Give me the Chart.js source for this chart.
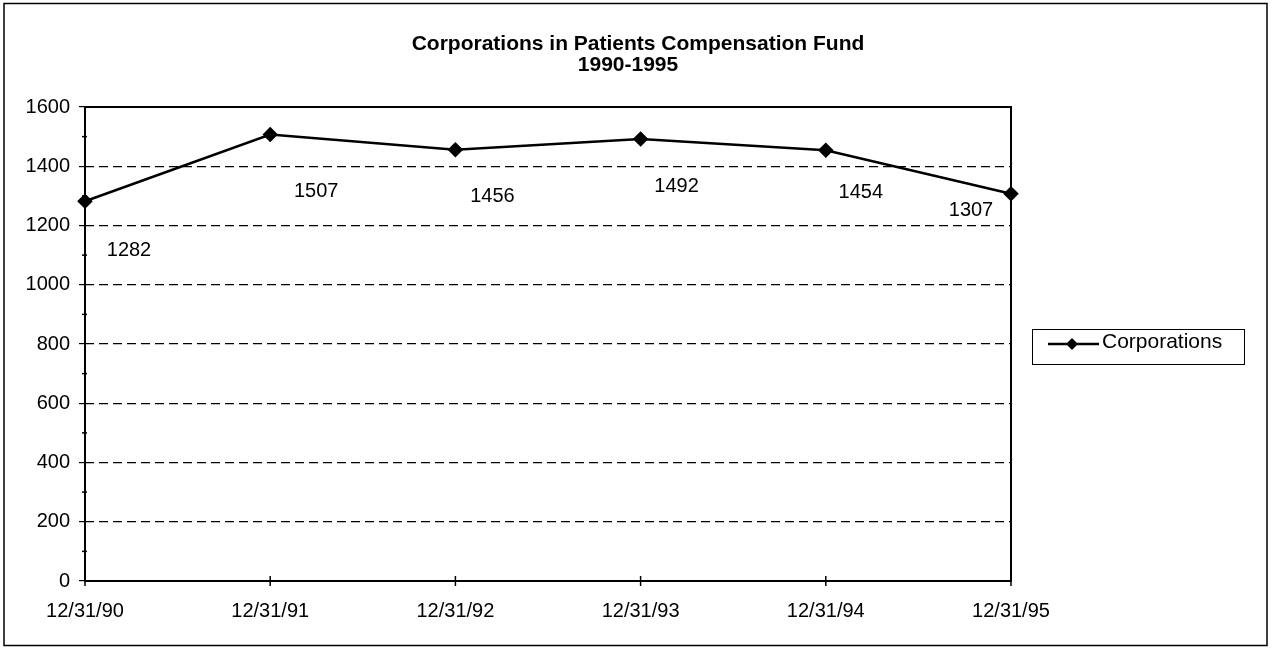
<!DOCTYPE html>
<html>
<head>
<meta charset="utf-8">
<script src="https://cdn.jsdelivr.net/npm/chart.js@4.4.1/dist/chart.umd.min.js"></script>
<style>
  html, body { margin: 0; padding: 0; background: #fff; }
  #wrap { position: relative; width: 1273px; height: 649px; }
</style>
</head>
<body>
<div id="wrap"><canvas id="c" width="1273" height="649"></canvas></div>
<script>
const categories = ["12/31/90", "12/31/91", "12/31/92", "12/31/93", "12/31/94", "12/31/95"];
const corporations = [1282, 1507, 1456, 1492, 1454, 1307];
const seriesName = "Corporations";
const titleLines = ["Corporations in Patients Compensation Fund", "1990-1995"];
const yMin = 0, yMax = 1600, yStep = 200;

const FONT = "'Liberation Sans', Arial, sans-serif";

// pixel offsets of each data label from its point (style only)
const labelOffsets = [[44, 49], [46, 57], [37, 47], [36, 47], [35, 42], [-40, 17]];

const decorPlugin = {
  id: 'decor',
  beforeDraw(chart) {
    const ctx = chart.ctx;
    ctx.save();
    ctx.fillStyle = '#fff';
    ctx.fillRect(0, 0, chart.width, chart.height);
    ctx.restore();
  },
  afterDraw(chart) {
    const ctx = chart.ctx;
    const a = chart.chartArea;
    const x = chart.scales.x, y = chart.scales.y;
    ctx.save();
    // outer frame
    ctx.strokeStyle = '#000';
    ctx.lineWidth = 1.5;
    ctx.strokeRect(4, 3.5, 1263, 642);
    // plot frame
    ctx.lineWidth = 2;
    ctx.strokeRect(a.left, a.top, a.right - a.left, a.bottom - a.top);
    // x cross ticks
    ctx.lineWidth = 1.5;
    for (let i = 0; i < categories.length; i++) {
      const px = x.getPixelForValue(i);
      ctx.beginPath();
      ctx.moveTo(px, a.bottom - 5);
      ctx.lineTo(px, a.bottom + 5);
      ctx.stroke();
    }
    // y minor ticks
    for (let v = yMin + yStep / 2; v < yMax; v += yStep) {
      const py = y.getPixelForValue(v);
      ctx.beginPath();
      ctx.moveTo(a.left - 3, py);
      ctx.lineTo(a.left + 2, py);
      ctx.stroke();
    }
    // title
    ctx.fillStyle = '#000';
    ctx.textAlign = 'center';
    ctx.textBaseline = 'middle';
    ctx.font = "bold 21px " + FONT;
    ctx.fillText(titleLines[0], 638, 44);
    ctx.fillText(titleLines[1], 628, 65);
    // data labels
    ctx.font = "20px " + FONT;
    const meta = chart.getDatasetMeta(0);
    meta.data.forEach((pt, i) => {
      const off = labelOffsets[i];
      ctx.fillText(String(corporations[i]), pt.x + off[0], pt.y + off[1]);
    });
    // legend
    ctx.lineWidth = 1;
    ctx.strokeRect(1032.5, 329.5, 212, 35);
    ctx.lineWidth = 2.5;
    ctx.beginPath();
    ctx.moveTo(1048, 344);
    ctx.lineTo(1099, 344);
    ctx.stroke();
    ctx.beginPath();
    const dx = 1072, dy = 344, r = 6;
    ctx.moveTo(dx, dy - r); ctx.lineTo(dx + r, dy); ctx.lineTo(dx, dy + r); ctx.lineTo(dx - r, dy); ctx.closePath();
    ctx.fill();
    ctx.textAlign = 'left';
    ctx.font = "21px " + FONT;
    ctx.fillText(seriesName, 1102, 342);
    ctx.restore();
  }
};

new Chart(document.getElementById('c'), {
  type: 'line',
  data: {
    labels: categories,
    datasets: [{
      label: seriesName,
      data: corporations,
      borderColor: '#000',
      backgroundColor: '#000',
      borderWidth: 2.5,
      pointStyle: 'rectRot',
      pointRadius: 6,
      pointBackgroundColor: '#000',
      pointBorderColor: '#000',
      tension: 0
    }]
  },
  options: {
    responsive: false,
    animation: false,
    devicePixelRatio: 1,
    layout: { padding: { left: 0, top: 107, right: 262, bottom: 0 } },
    plugins: {
      legend: { display: false },
      title: { display: false },
      tooltip: { enabled: false }
    },
    scales: {
      x: {
        type: 'category',
        offset: false,
        afterFit(s) { s.height = 68; },
        grid: { drawOnChartArea: false, drawTicks: false },
        border: { display: false },
        ticks: {
          color: '#000',
          font: { family: FONT, size: 20 },
          padding: 18,
          maxRotation: 0,
          autoSkip: false
        }
      },
      y: {
        min: yMin,
        max: yMax,
        afterFit(s) { s.width = 85; },
        grid: {
          color: (c) => (c.tick && (c.tick.value === yMin || c.tick.value === yMax)) ? 'rgba(0,0,0,0)' : '#000',
          tickColor: '#000',
          lineWidth: 1.2,
          tickLength: 6,
          tickBorderDash: []
        },
        border: { display: false, dash: [9, 5] },
        ticks: {
          stepSize: yStep,
          color: '#000',
          font: { family: FONT, size: 20 },
          padding: 9,
          callback: (v) => String(v)
        }
      }
    }
  },
  plugins: [decorPlugin]
});
</script>
</body>
</html>
